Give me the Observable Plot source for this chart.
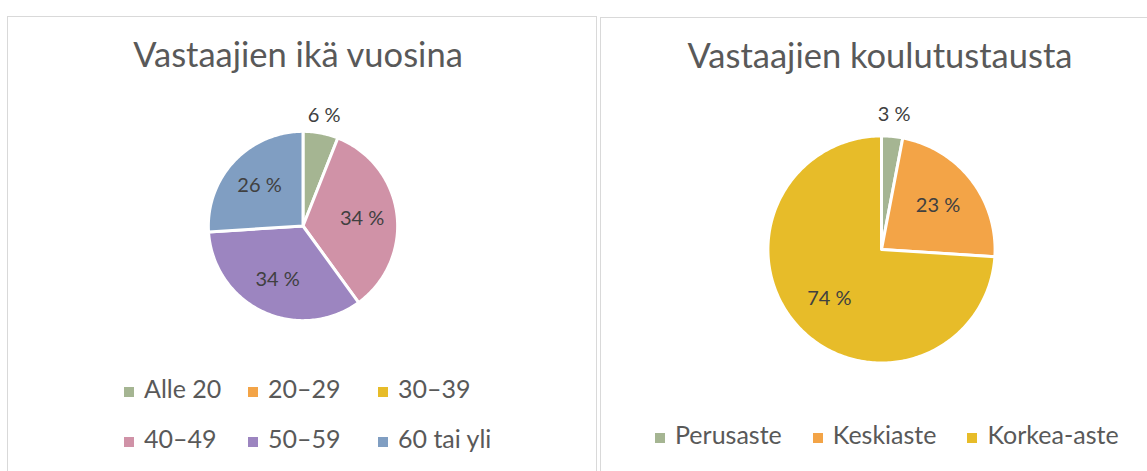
<!DOCTYPE html>
<html>
<head>
<meta charset="utf-8">
<script src="https://cdn.jsdelivr.net/npm/d3@7"></script>
<script src="https://cdn.jsdelivr.net/npm/@observablehq/plot@0.6"></script>
<style>
  html, body { margin: 0; padding: 0; background: #fff; }
  body { width: 1147px; height: 471px; position: relative; overflow: hidden; font-family: Lato, "Open Sans", sans-serif; }
  .panel { position: absolute; border: 1px solid #d9d9d9; box-sizing: border-box; }
  .title { position: absolute; text-align: center; color: #595959; font-size: 34.5px; white-space: nowrap; line-height: 1; }
  .abs { position: absolute; }
  .legend { position: absolute; color: #595959; font-size: 25px; line-height: 1; white-space: nowrap; }
  .item { display: flex; align-items: flex-end; }
  .sw { width: 10px; height: 10px; margin-right: 10px; margin-bottom: 4px; flex: none; }
</style>
</head>
<body>
<div class="panel" style="left:7px;top:16px;width:590px;height:480px"></div>
<div class="panel" style="left:600px;top:17px;width:560px;height:480px"></div>
<div id="root"></div>
<script>
// ---- data ----
const ageTitle = "Vastaajien ikä vuosina";
const ageCategories = ["Alle 20", "20–29", "30–39", "40–49", "50–59", "60 tai yli"];
const ageValues = [6, 0, 0, 34, 34, 26];
const ageColors = ["#A5B592", "#F3A447", "#E7BC29", "#D092A7", "#9C85C0", "#809EC2"];

const eduTitle = "Vastaajien koulutustausta";
const eduCategories = ["Perusaste", "Keskiaste", "Korkea-aste"];
const eduValues = [3, 23, 74];
const eduColors = ["#A5B592", "#F3A447", "#E7BC29"];

// ---- helpers ----
function pieGeometry(cats, vals) {
  const arcs = d3.pie().sort(null).value(d => d.v)(cats.map((c, i) => ({c, v: vals[i]})));
  const total = d3.sum(vals);
  const poly = [], labels = [];
  arcs.forEach(a => {
    if (a.data.v <= 0) return;
    const c = a.data.c;
    poly.push({cat: c, x: 0, y: 0});
    const n = Math.max(2, Math.ceil((a.endAngle - a.startAngle) / (Math.PI / 180)));
    for (let k = 0; k <= n; k++) {
      const t = a.startAngle + (a.endAngle - a.startAngle) * k / n;
      poly.push({cat: c, x: Math.sin(t), y: Math.cos(t)});
    }
    const m = (a.startAngle + a.endAngle) / 2;
    const rr = a.data.v / total < 0.1 ? 1.19 : 0.63;
    labels.push({cat: c, x: rr * Math.sin(m), y: rr * Math.cos(m), text: `${a.data.v} %`});
  });
  return {poly, labels};
}

function piePlot(cats, vals, colors, r) {
  const {poly, labels} = pieGeometry(cats, vals);
  const W = Math.round(2.8 * r);
  return Plot.plot({
    width: W, height: W, margin: 0,
    x: {domain: [-1.4, 1.4], axis: null},
    y: {domain: [-1.4, 1.4], axis: null},
    color: {domain: cats, range: colors},
    style: {fontFamily: "Lato, sans-serif", background: "transparent", overflow: "visible"},
    marks: [
      Plot.line(poly, {x: "x", y: "y", z: "cat", fill: "cat", stroke: "white", strokeWidth: 3, curve: "linear-closed"}),
      Plot.text(labels, {x: "x", y: "y", text: "text", fontSize: 20, fill: "#404040"})
    ]
  });
}

function place(el, left, top) {
  const w = document.createElement("div");
  w.className = "abs";
  w.style.left = left + "px"; w.style.top = top + "px";
  w.appendChild(el);
  document.getElementById("root").appendChild(w);
  return w;
}

function addTitle(text, cx, top) {
  const d = document.createElement("div");
  d.className = "title";
  d.textContent = text;
  d.style.left = (cx - 300) + "px"; d.style.width = "600px"; d.style.top = top + "px";
  document.getElementById("root").appendChild(d);
}

function legendItem(cat, color) {
  const it = document.createElement("div");
  it.className = "item";
  const sw = document.createElement("span");
  sw.className = "sw"; sw.style.background = color;
  const tx = document.createElement("span");
  tx.textContent = cat;
  it.appendChild(sw); it.appendChild(tx);
  return it;
}

// ---- left chart ----
const rL = 94.5;
addTitle(ageTitle, 298, 37);
place(piePlot(ageCategories, ageValues, ageColors, rL), 302 - Math.round(1.4 * rL), 225 - Math.round(1.4 * rL));
{
  const lg = document.createElement("div");
  lg.className = "legend";
  lg.style.left = "124px"; lg.style.top = "376px";
  lg.style.display = "grid";
  lg.style.gridTemplateColumns = "124px 130px auto";
  lg.style.rowGap = "25px";
  ageCategories.forEach((c, i) => lg.appendChild(legendItem(c, ageColors[i])));
  document.getElementById("root").appendChild(lg);
}

// ---- right chart ----
const rR = 113.5;
addTitle(eduTitle, 880, 38);
place(piePlot(eduCategories, eduValues, eduColors, rR), 881 - Math.round(1.4 * rR), 249 - Math.round(1.4 * rR));
{
  const lg = document.createElement("div");
  lg.className = "legend";
  lg.style.left = "655px"; lg.style.top = "422px";
  lg.style.display = "flex";
  lg.style.columnGap = "31px";
  eduCategories.forEach((c, i) => lg.appendChild(legendItem(c, eduColors[i])));
  document.getElementById("root").appendChild(lg);
}
</script>
</body>
</html>
